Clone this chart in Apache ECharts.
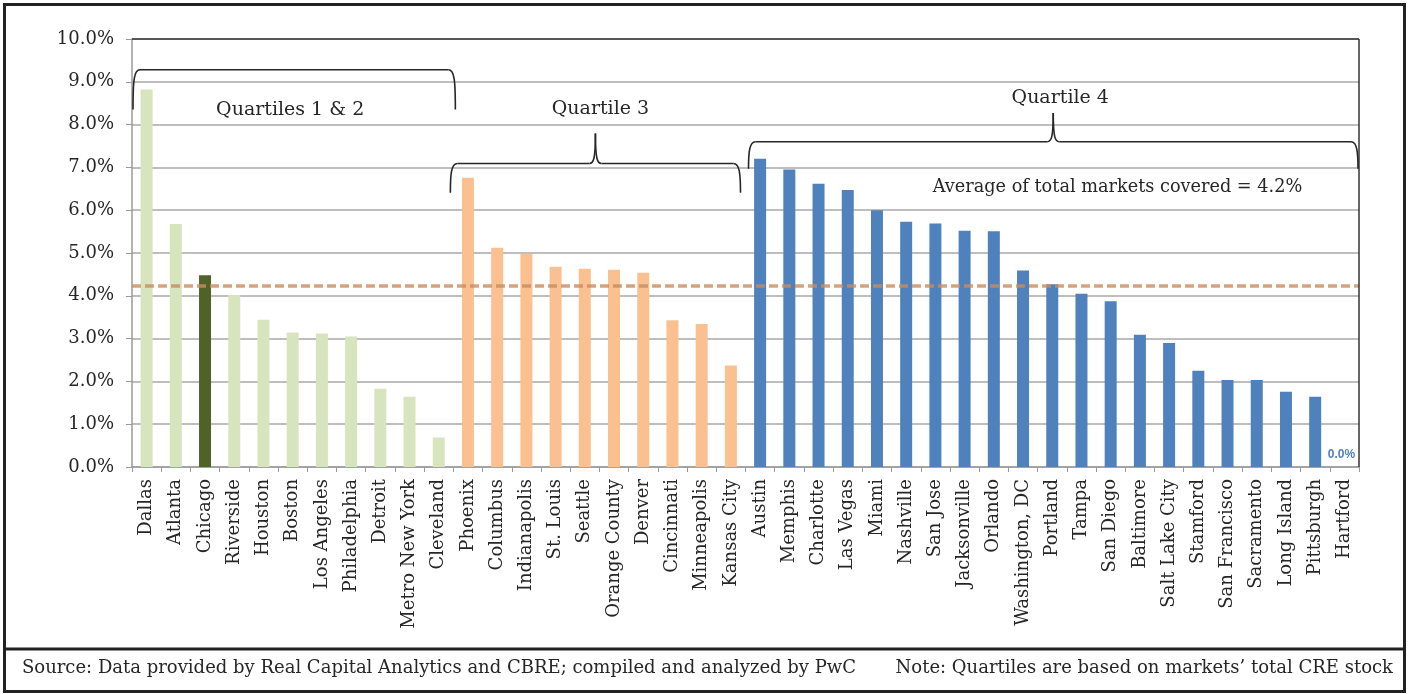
<!DOCTYPE html>
<html>
<head>
<meta charset="utf-8">
<script src="https://cdn.jsdelivr.net/npm/echarts@6/dist/echarts.min.js"></script>
<style>
  html, body { margin: 0; padding: 0; background: #ffffff; }
  #chart { width: 1410px; height: 694px; }
</style>
</head>
<body>
<div id="chart"></div>
<script>
// Share of CRE stock by market, grouped by quartile (values in %)
const q12Markets = ['Dallas', 'Atlanta', 'Chicago', 'Riverside', 'Houston', 'Boston', 'Los Angeles',
  'Philadelphia', 'Detroit', 'Metro New York', 'Cleveland'];
const q12Values = [8.82, 5.68, 4.48, 4.02, 3.44, 3.14, 3.12, 3.05, 1.83, 1.64, 0.69];

const q3Markets = ['Phoenix', 'Columbus', 'Indianapolis', 'St. Louis', 'Seattle', 'Orange County',
  'Denver', 'Cincinnati', 'Minneapolis', 'Kansas City'];
const q3Values = [6.76, 5.12, 4.98, 4.68, 4.63, 4.61, 4.54, 3.43, 3.34, 2.37];

const q4Markets = ['Austin', 'Memphis', 'Charlotte', 'Las Vegas', 'Miami', 'Nashville', 'San Jose',
  'Jacksonville', 'Orlando', 'Washington, DC', 'Portland', 'Tampa', 'San Diego', 'Baltimore',
  'Salt Lake City', 'Stamford', 'San Francisco', 'Sacramento', 'Long Island', 'Pittsburgh', 'Hartford'];
const q4Values = [7.20, 6.95, 6.62, 6.47, 6.00, 5.73, 5.69, 5.52, 5.51, 4.59, 4.27, 4.05, 3.87,
  3.09, 2.90, 2.25, 2.03, 2.03, 1.76, 1.64, 0.0];

const highlightMarket = 'Chicago';
const averageShare = 4.24;

const groupLabels = ['Quartiles 1 & 2', 'Quartile 3', 'Quartile 4'];
const yMin = 0, yMax = 10, yStep = 1;

const sourceNote = 'Source: Data provided by Real Capital Analytics and CBRE; compiled and analyzed by PwC';
const quartileNote = 'Note: Quartiles are based on markets\u2019 total CRE stock';

const COLORS = { q12: '#d7e4bd', highlight: '#4f6228', q3: '#fac090', q4: '#4f81bd' };
const SERIF = '"DejaVu Serif", "Liberation Serif", serif';
const TEXT = '#262626';

const categories = [...q12Markets, ...q3Markets, ...q4Markets];
const barData = [];
q12Markets.forEach((m, i) => barData.push({
  value: q12Values[i],
  itemStyle: { color: m === highlightMarket ? COLORS.highlight : COLORS.q12 }
}));
q3Markets.forEach((m, i) => barData.push({ value: q3Values[i], itemStyle: { color: COLORS.q3 } }));
q4Markets.forEach((m, i) => {
  const item = { value: q4Values[i], itemStyle: { color: COLORS.q4 } };
  if (q4Values[i] === 0) {
    item.label = {
      show: true, position: 'top', distance: 6, offset: [-3, 0],
      formatter: p => p.value.toFixed(1) + '%',
      color: COLORS.q4, fontFamily: '"Liberation Sans", Arial, sans-serif',
      fontWeight: 'bold', fontSize: 12
    };
  }
  barData.push(item);
});

const chart = echarts.init(document.getElementById('chart'), null, { renderer: 'canvas' });

const option = {
  backgroundColor: '#ffffff',
  animation: false,
  grid: { left: 132, top: 39, right: 51, bottom: 227 },
  xAxis: {
    type: 'category',
    data: categories,
    axisLine: { show: true, lineStyle: { color: '#9a9a9a', width: 1.5 } },
    axisTick: { show: true, interval: 0, length: 5, lineStyle: { color: '#9a9a9a', width: 1 } },
    axisLabel: {
      interval: 0, rotate: 90, margin: 12,
      fontFamily: SERIF, fontSize: 18, color: TEXT
    },
    splitLine: { show: false }
  },
  yAxis: {
    type: 'value',
    min: yMin, max: yMax, interval: yStep,
    axisLine: { show: true, lineStyle: { color: '#9a9a9a', width: 1.5 } },
    axisTick: { show: true, length: 6, lineStyle: { color: '#9a9a9a', width: 1 } },
    axisLabel: {
      margin: 18, fontFamily: SERIF, fontSize: 18, color: TEXT,
      formatter: v => v.toFixed(1) + '%'
    },
    splitLine: { show: true, lineStyle: { color: '#a9a9ab', width: 1.5 } }
  },
  series: [{
    type: 'bar',
    data: barData,
    barWidth: 12,
    markLine: {
      silent: true,
      symbol: ['none', 'none'],
      label: { show: false },
      lineStyle: { color: 'rgba(200,140,95,0.8)', width: 3.5, type: [9, 4] },
      data: [{ yAxis: averageShare }]
    }
  }]
};
chart.setOption(option);

// Brackets, group captions and frame positioned from the axes
const xc = i => chart.convertToPixel({ xAxisIndex: 0 }, i);
const yv = v => chart.convertToPixel({ yAxisIndex: 0 }, v);
const band = xc(1) - xc(0);
const leftEdge = i => xc(i) - band / 2;
const rightEdge = i => xc(i) + band / 2;

const braceStyle = { fill: null, stroke: '#262626', lineWidth: 1.6 };

// A horizontal bracket built from lines and cubic curves; optional central peak
function braceParts(x0, x1, yTop, yEnd, yPeak) {
  const r = 7;
  const parts = [];
  const curve = (ax, ay, c1x, c1y, c2x, c2y, bx, by) => parts.push({
    type: 'bezierCurve', z: 10, style: braceStyle,
    shape: { x1: ax, y1: ay, cpx1: c1x, cpy1: c1y, cpx2: c2x, cpy2: c2y, x2: bx, y2: by }
  });
  const seg = (ax, ay, bx, by) => parts.push({
    type: 'line', z: 10, style: braceStyle, shape: { x1: ax, y1: ay, x2: bx, y2: by }
  });
  curve(x0, yEnd, x0, yTop + 10, x0 + 1, yTop, x0 + r, yTop);
  if (yPeak != null) {
    const xm = (x0 + x1) / 2;
    seg(x0 + r, yTop, xm - 6, yTop);
    curve(xm - 6, yTop, xm - 2, yTop, xm, yTop - 4, xm, yPeak);
    curve(xm, yPeak, xm, yTop - 4, xm + 2, yTop, xm + 6, yTop);
    seg(xm + 6, yTop, x1 - r, yTop);
  } else {
    seg(x0 + r, yTop, x1 - r, yTop);
  }
  curve(x1 - r, yTop, x1 - 1, yTop, x1, yTop + 10, x1, yEnd);
  return parts;
}

const n12 = q12Markets.length, n3 = q3Markets.length, n4 = q4Markets.length;
const nAll = categories.length;
const b12 = { x0: leftEdge(0) + 1, x1: rightEdge(n12 - 1) + 2, top: yv(9.28), end: yv(8.35), peak: null };
const b3 = { x0: leftEdge(n12) - 3, x1: rightEdge(n12 + n3 - 1) - 5, top: yv(7.09), end: yv(6.41), peak: yv(7.79) };
const b4 = { x0: leftEdge(n12 + n3) + 3, x1: rightEdge(nAll - 1) - 1, top: yv(7.60), end: yv(6.97), peak: yv(8.27) };

const captionStyle = { fill: TEXT, font: `19px ${SERIF}`, align: 'center', verticalAlign: 'middle' };

// plot-area frame: dark top and right edges
const plotL = leftEdge(0), plotR = rightEdge(nAll - 1);
const plotT = yv(yMax), plotB = yv(yMin);

const graphics = [
  { type: 'line', z: 5, shape: { x1: plotL, y1: plotT, x2: plotR, y2: plotT },
    style: { stroke: '#333333', lineWidth: 1.5 } },
  { type: 'line', z: 5, shape: { x1: plotR, y1: plotT, x2: plotR, y2: plotB },
    style: { stroke: '#333333', lineWidth: 1.5 } },
  ...braceParts(b12.x0, b12.x1, b12.top, b12.end, b12.peak),
  ...braceParts(b3.x0, b3.x1, b3.top, b3.end, b3.peak),
  ...braceParts(b4.x0, b4.x1, b4.top, b4.end, b4.peak),
  { type: 'text', x: (b12.x0 + b12.x1) / 2 - 4, y: yv(8.35), style: Object.assign({ text: groupLabels[0] }, captionStyle), z: 10 },
  { type: 'text', x: (b3.x0 + b3.x1) / 2 + 5, y: yv(8.37), style: Object.assign({ text: groupLabels[1] }, captionStyle), z: 10 },
  { type: 'text', x: (b4.x0 + b4.x1) / 2 + 7, y: yv(8.61), style: Object.assign({ text: groupLabels[2] }, captionStyle), z: 10 },
  { type: 'text', x: 1117.5, y: yv(6.53),
    style: { text: `Average of total markets covered = ${averageShare.toFixed(1)}%`, fill: TEXT,
      font: `17.7px ${SERIF}`, align: 'center', verticalAlign: 'middle' }, z: 10 },
  // outer frame and footer strip
  { type: 'rect', shape: { x: 4.5, y: 4.5, width: 1400, height: 687 },
    style: { fill: null, stroke: '#222222', lineWidth: 3 }, z: 20 },
  { type: 'line', shape: { x1: 4, y1: 649, x2: 1405, y2: 649 },
    style: { stroke: '#222222', lineWidth: 3 }, z: 20 },
  { type: 'text', x: 22, y: 668,
    style: { text: sourceNote, fill: TEXT, font: `18px ${SERIF}`, align: 'left', verticalAlign: 'middle' }, z: 20 },
  { type: 'text', x: 1393, y: 668,
    style: { text: quartileNote, fill: TEXT, font: `18px ${SERIF}`, align: 'right', verticalAlign: 'middle' }, z: 20 }
];
chart.setOption({ graphic: graphics });
</script>
</body>
</html>
